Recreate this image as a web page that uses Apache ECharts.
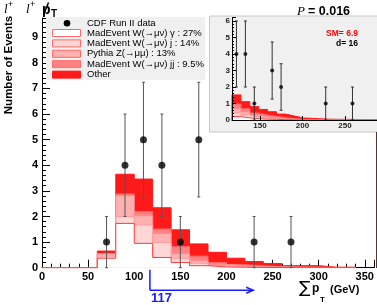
<!DOCTYPE html>
<html><head><meta charset="utf-8">
<script src="https://cdn.jsdelivr.net/npm/echarts@6/dist/echarts.min.js"></script>
<style>html,body{margin:0;padding:0;background:#fff}#c{width:377px;height:305px}</style>
</head><body><div id="c"></div>
<script>
// ---------- data ----------
const mainEdges = [0,20,40,60,80,100,120,140,160,180,200,220,240,260,280,300,320,340];
const wGamma  = [0,0,0,0.37,1.73,0.95,0.40,0.20,0.08,0.03,0.02,0.01,0.01,0,0,0,0];
const wJet    = [0,0,0,0.08,0.26,0.72,0.58,0.17,0.09,0.05,0.03,0.02,0.01,0.01,0.01,0,0];
const zMuMu   = [0,0,0,0.10,0.82,0.36,0.36,0.19,0.11,0.05,0.03,0.02,0.01,0.01,0,0,0];
const wJetJet = [0,0,0,0,0.07,0.16,0.17,0.26,0.17,0.07,0.04,0.02,0.01,0,0.01,0.01,0.01];
const other   = [0,0,0,0.10,0.77,1.27,0.83,0.66,0.48,0.40,0.25,0.17,0.12,0.06,0.06,0.01,0.01];

const dataX   = [70,90,110,130,150,170,230,270];
const dataY   = [1,4,5,4,1,5,1,1];
const dataErr = [1,2,2.24,2,1,2.24,1,1];

const insetEdges = [117,127.5,138,148.5,159,169.5,180,190.5,201,211.5,222,232.5,243,253.5,264,274.5,285,295.5,306,316.5,327];
const insWGamma  = [0.20,0.13,0.08,0.05,0.04,0.02,0.01,0.01,0,0,0,0,0,0,0,0,0,0,0,0];
const insWJet    = [0.24,0.17,0.10,0.07,0.04,0.03,0.02,0.01,0.01,0.01,0,0,0,0,0,0,0,0,0,0];
const insZMuMu   = [0.27,0.20,0.12,0.08,0.06,0.04,0.02,0.01,0.01,0,0.01,0,0,0,0,0,0,0,0,0];
const insWJetJet = [0.26,0.18,0.12,0.10,0.08,0.05,0.03,0.01,0.01,0.01,0,0.01,0.01,0,0,0,0,0,0,0];
const insOther   = [0.55,0.43,0.39,0.34,0.28,0.22,0.16,0.08,0.07,0.05,0.04,0.03,0.03,0.03,0.03,0.02,0.02,0.02,0.02,0.02];

const insetX   = [122.25,132.75,143.25,164.25,174.75,227.25,258.75];
const insetY   = [4,4,1,3,2,1,1];
const insetErr = [2,2,1,1.73,1.41,1,1];

const cutValue = 117;
const cutArrowEnd = 229;

const legendLabels = ['CDF Run II data','MadEvent W(\u2192\u03bc\u03bd) \u03b3 : 27%','MadEvent W(\u2192\u03bc\u03bd) j : 14%','Pythia Z(\u2192\u03bc\u03bc) : 13%','MadEvent W(\u2192\u03bc\u03bd) jj : 9.5%','Other'];
const smText = 'SM= 6.9';
const dText = 'd= 16';
const pText = '= 0.016';

// ---------- styles ----------
const fills   = ['#ffffff','#ffd6d6','#ffb0b0','#ff8282','#ff1a1a'];
const borders = ['#ff3a3a','#ff9a9a','#ff8a8a','#ff6a6a','#ff1a1a'];
const FONT = 'Liberation Sans, Arial, Helvetica, sans-serif';

function cumulate(layers){
  const out=[]; let run=layers[0].map(()=>0);
  layers.forEach(l=>{ run=run.map((v,i)=>v+l[i]); out.push(run.slice()); });
  return out;
}
function stepPoints(edges, vals){
  const pts=[[edges[0],0]];
  for(let i=0;i<vals.length;i++) pts.push([edges[i],vals[i]]);
  pts.push([edges[edges.length-1],0]);
  return pts;
}
const mainCum = cumulate([wGamma,wJet,zMuMu,wJetJet,other]);
const insCum  = cumulate([insWGamma,insWJet,insZMuMu,insWJetJet,insOther]);

const series=[];
for(let k=4;k>=0;k--){
  series.push({type:'line', xAxisIndex:0, yAxisIndex:0, step:'end', symbol:'none', silent:true,
    data: stepPoints(mainEdges, mainCum[k]), z: 2+(4-k),
    lineStyle:{color:borders[k], width:1}, areaStyle:{color:fills[k], opacity:1}});
  series.push({type:'line', xAxisIndex:1, yAxisIndex:1, step:'end', symbol:'none', silent:true,
    data: stepPoints(insetEdges, insCum[k]), z: 12+(4-k),
    lineStyle:{color:borders[k], width:1}, areaStyle:{color:fills[k], opacity:1}});
}
function errRender(color, cap){
  return function(params, api){
    const x=api.value(0), y=api.value(1), e=api.value(2);
    const t=api.coord([x,y+e]), b=api.coord([x,Math.max(0,y-e)]);
    return {type:'group', children:[
      {type:'line', shape:{x1:t[0],y1:t[1],x2:b[0],y2:b[1]}, style:{stroke:color,lineWidth:1}},
      {type:'line', shape:{x1:t[0]-cap,y1:t[1],x2:t[0]+cap,y2:t[1]}, style:{stroke:color,lineWidth:1}},
      {type:'line', shape:{x1:b[0]-cap,y1:b[1],x2:b[0]+cap,y2:b[1]}, style:{stroke:color,lineWidth:1}}
    ]};
  };
}
series.push({type:'custom', xAxisIndex:0, yAxisIndex:0, z:10, silent:true,
  data: dataX.map((x,i)=>[x,dataY[i],dataErr[i]]), renderItem: errRender('#555',1.5)});
series.push({type:'scatter', xAxisIndex:0, yAxisIndex:0, z:11, silent:true, symbolSize:7,
  itemStyle:{color:'#000'}, data: dataX.map((x,i)=>[x,dataY[i]])});
series.push({type:'custom', xAxisIndex:1, yAxisIndex:1, z:19, silent:true,
  data: insetX.map((x,i)=>[x,insetY[i],insetErr[i]]), renderItem: errRender('#333',1.5)});
series.push({type:'scatter', xAxisIndex:1, yAxisIndex:1, z:20, silent:true, symbolSize:4,
  itemStyle:{color:'#000'}, data: insetX.map((x,i)=>[x,insetY[i]])});
// cut marker
series.push({type:'custom', xAxisIndex:0, yAxisIndex:0, z:12, silent:true, clip:false,
  data:[[cutValue,cutArrowEnd]],
  renderItem:function(params, api){
    const p0=api.coord([api.value(0),0]), p1=api.coord([api.value(1),0]);
    const yA=p0[1]+22.5, c='#1a1aff';
    return {type:'group', children:[
      {type:'line', shape:{x1:p0[0],y1:p0[1]+2,x2:p0[0],y2:yA}, style:{stroke:c,lineWidth:1.5}},
      {type:'line', shape:{x1:p0[0],y1:yA,x2:p1[0],y2:yA}, style:{stroke:c,lineWidth:1.5}},
      {type:'polyline', shape:{points:[[p1[0]-7,yA-3],[p1[0],yA],[p1[0]-7,yA+3]]}, style:{stroke:c,fill:null,lineWidth:1.5}},
      {type:'text', style:{text:String(api.value(0)), x:p0[0]+1, y:yA+8, fill:c, font:'bold 13px '+FONT, align:'left', verticalAlign:'middle'}}
    ]};
  }});

const intFmt = v => (Math.abs(v-Math.round(v))<1e-6 ? String(Math.round(v)) : '');

const option = {
  animation:false,
  grid:[
    {left:42, top:18, width:335, height:249.7},
    {left:232, top:17.7, width:145, height:102.3}
  ],
  xAxis:[
    {type:'value', gridIndex:0, min:0, max:360, interval:50,
     axisLine:{lineStyle:{color:'#000',width:1}},
     axisTick:{inside:true, length:8, lineStyle:{color:'#000'}},
     minorTick:{show:true, splitNumber:5, length:4, lineStyle:{color:'#000'}},
     splitLine:{show:false},
     axisLabel:{formatter:v=>(v%50===0?String(v):''), color:'#000', fontWeight:'bold', fontSize:11, fontFamily:FONT, margin:4}},
    {type:'value', gridIndex:1, min:117, max:287.6, z:22,
     axisLine:{lineStyle:{color:'#000',width:1}},
     axisTick:{inside:true, length:4, customValues:[150,200,250], lineStyle:{color:'#000'}},
     splitLine:{show:false},
     axisLabel:{customValues:[150,200,250], color:'#222', fontWeight:'bold', fontSize:8, fontFamily:FONT, margin:2}}
  ],
  yAxis:[
    {type:'value', gridIndex:0, min:0, max:9.75, interval:1,
     axisLine:{lineStyle:{color:'#000',width:1}},
     axisTick:{inside:true, length:8, lineStyle:{color:'#000'}},
     minorTick:{show:true, splitNumber:5, length:4, lineStyle:{color:'#000'}},
     splitLine:{show:false},
     axisLabel:{formatter:intFmt, color:'#000', fontWeight:'bold', fontSize:11, fontFamily:FONT, margin:4}},
    {type:'value', gridIndex:1, min:0, max:6.2, interval:1, z:22,
     axisLine:{lineStyle:{color:'#000',width:1}},
     axisTick:{inside:true, length:4, lineStyle:{color:'#000'}},
     minorTick:{show:true, splitNumber:5, length:2, lineStyle:{color:'#000'}},
     splitLine:{show:false},
     axisLabel:{formatter:intFmt, color:'#222', fontWeight:'bold', fontSize:8, fontFamily:FONT, margin:2}}
  ],
  series: series,
  graphic:{elements:[]}
};

const G = option.graphic.elements;
// inset pad
G.push({type:'rect', shape:{x:209.5,y:16,width:170,height:116}, style:{fill:'#f0f0f0',stroke:'#c8c8c8',lineWidth:1}, z:5, silent:true});
// legend box
G.push({type:'rect', shape:{x:46,y:17,width:159,height:63}, style:{fill:'#f0f0f0'}, z:5, silent:true});
const legY=[23.3,33,43.4,53.8,64.2,74.6];
G.push({type:'circle', shape:{cx:67,cy:legY[0],r:3.3}, style:{fill:'#000'}, z:6, silent:true});
for(let k=0;k<5;k++){
  G.push({type:'rect', shape:{x:52.5,y:legY[k+1]-3.5,width:28,height:7}, style:{fill:fills[k],stroke:borders[k]==='#ff1a1a'?'#ff1a1a':'#ff6a6a',lineWidth:1}, z:6, silent:true});
}
legendLabels.forEach((t,i)=>G.push({type:'text', z:6, silent:true,
  style:{text:t, x:87, y:legY[i], fill:'#000', font:'9.5px '+FONT, align:'left', verticalAlign:'middle', textAlign:'left', textVerticalAlign:'middle'}}));
// y axis title
G.push({type:'text', x:9, y:65, rotation:Math.PI/2, z:6, silent:true,
  style:{text:'Number of Events', x:0, y:0, fill:'#000', font:'bold 11.5px '+FONT, align:'center', verticalAlign:'middle', textAlign:'center', textVerticalAlign:'middle'}});
// top-left title
const serifI='italic 13px Liberation Serif, DejaVu Serif, serif';
G.push({type:'text', z:6, silent:true, style:{text:'l', x:4, y:10, font:serifI, fill:'#000', align:'left', verticalAlign:'middle'}});
G.push({type:'text', z:6, silent:true, style:{text:'+', x:8, y:5, font:'9px '+FONT, fill:'#000', align:'left', verticalAlign:'middle'}});
G.push({type:'text', z:6, silent:true, style:{text:'l', x:26, y:10, font:serifI, fill:'#000', align:'left', verticalAlign:'middle'}});
G.push({type:'text', z:6, silent:true, style:{text:'+', x:30, y:5, font:'9px '+FONT, fill:'#000', align:'left', verticalAlign:'middle'}});
G.push({type:'text', z:6, silent:true, style:{text:'p', x:42, y:10, font:'bold 14px '+FONT, fill:'#000', align:'left', verticalAlign:'middle'}});
G.push({type:'line', z:6, silent:true, shape:{x1:43.5,y1:15,x2:48.5,y2:2.5}, style:{stroke:'#000',lineWidth:1.5}});
G.push({type:'text', z:6, silent:true, style:{text:'T', x:51, y:14, font:'bold 10px '+FONT, fill:'#000', align:'left', verticalAlign:'middle'}});
// P value
G.push({type:'text', z:6, silent:true, style:{text:'P', x:297, y:11.5, font:'italic 13px Liberation Serif, DejaVu Serif, serif', fill:'#000', align:'left', verticalAlign:'middle'}});
G.push({type:'text', z:6, silent:true, style:{text:pText, x:308, y:11.5, font:'bold 12.5px '+FONT, fill:'#000', align:'left', verticalAlign:'middle'}});
// SM / d
G.push({type:'text', z:25, silent:true, style:{text:smText, x:358, y:33.5, font:'bold 8.5px '+FONT, fill:'#ff0000', align:'right', verticalAlign:'middle'}});
G.push({type:'text', z:25, silent:true, style:{text:dText, x:358, y:43.5, font:'bold 8.5px '+FONT, fill:'#000', align:'right', verticalAlign:'middle'}});
// x axis title
G.push({type:'text', z:6, silent:true, style:{text:'\u2211', x:299, y:289, font:'17px DejaVu Sans, sans-serif', fill:'#000', align:'left', verticalAlign:'middle'}});
G.push({type:'text', z:6, silent:true, style:{text:'p', x:312, y:289, font:'bold 12px '+FONT, fill:'#000', align:'left', verticalAlign:'middle'}});
G.push({type:'text', z:6, silent:true, style:{text:'T', x:320, y:300, font:'bold 8px '+FONT, fill:'#000', align:'left', verticalAlign:'middle'}});
G.push({type:'text', z:6, silent:true, style:{text:'(GeV)', x:330, y:290, font:'bold 11px '+FONT, fill:'#000', align:'left', verticalAlign:'middle'}});
// right frame edge
G.push({type:'line', z:6, silent:true, shape:{x1:376.5,y1:132,x2:376.5,y2:268}, style:{stroke:'#553333',lineWidth:1}});

const chart = echarts.init(document.getElementById('c'), null, {renderer:'canvas'});
chart.setOption(option);
</script></body></html>
